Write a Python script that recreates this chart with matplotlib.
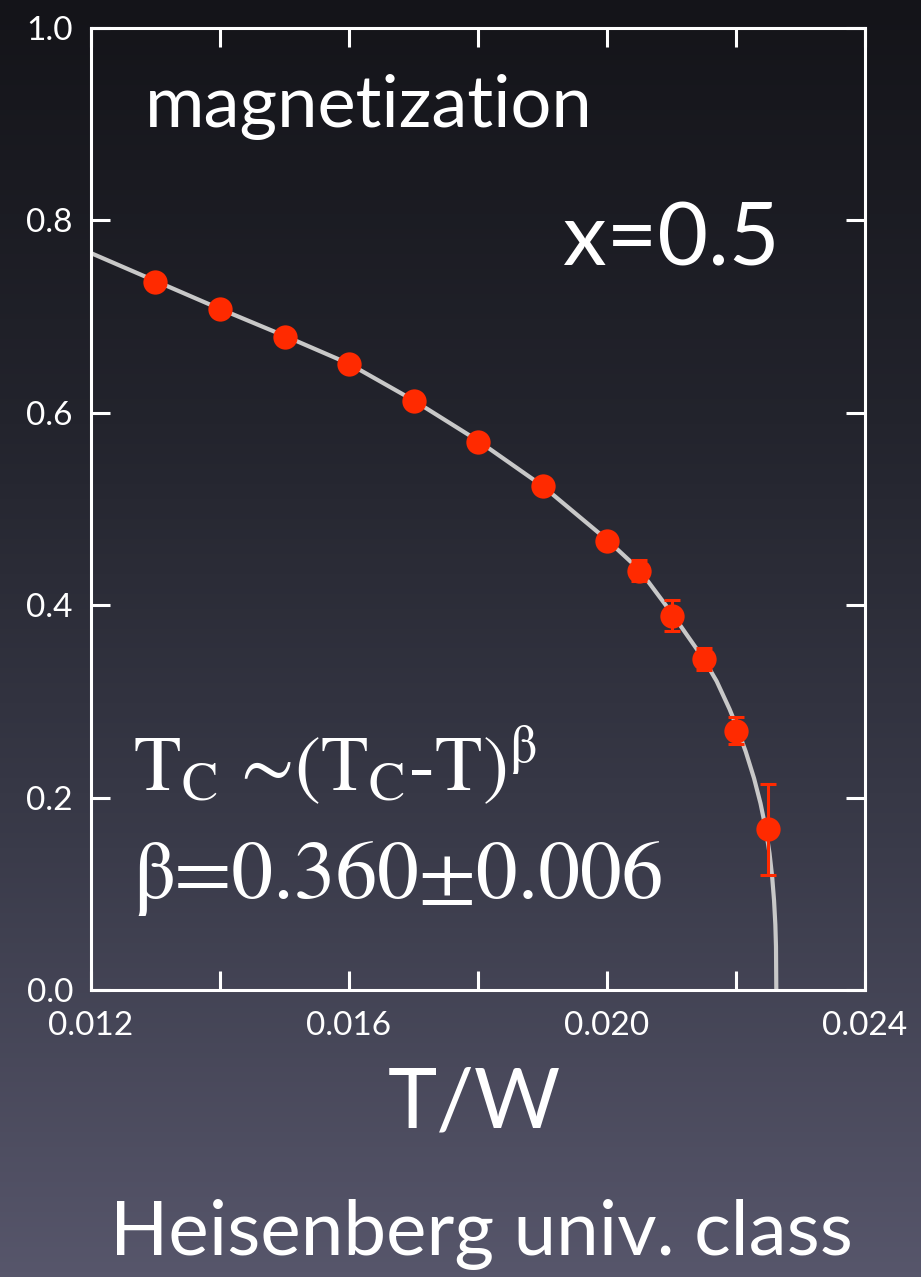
import numpy as np
import matplotlib
matplotlib.use("Agg")
import matplotlib.pyplot as plt
from matplotlib.colors import LinearSegmentedColormap

# Monte Carlo magnetization vs temperature (x = 0.5)
temp = [0.0130, 0.0140, 0.0150, 0.0160, 0.0170, 0.0180, 0.0190,
        0.0200, 0.0205, 0.0210, 0.0215, 0.0220, 0.0225]
magnet = [0.736, 0.708, 0.679, 0.651, 0.612, 0.570, 0.524,
          0.467, 0.436, 0.389, 0.344, 0.2695, 0.167]
magnet_err = [0.004, 0.004, 0.004, 0.004, 0.004, 0.004, 0.004,
              0.005, 0.011, 0.016, 0.011, 0.014, 0.047]

# critical-law fit curve
fit_t = [0.01200, 0.01300, 0.01400, 0.01500, 0.01600, 0.01700, 0.01800,
         0.01900, 0.02000, 0.02050, 0.02100, 0.02150, 0.02170, 0.02190,
         0.02200, 0.02215, 0.02228, 0.02238, 0.02246, 0.02252, 0.02256,
         0.02259, 0.02261, 0.022620, 0.022625]
fit_m = [0.766, 0.737, 0.708, 0.680, 0.651, 0.613, 0.571,
         0.524, 0.468, 0.437, 0.392, 0.344, 0.321, 0.292,
         0.2755, 0.248, 0.220, 0.194, 0.168, 0.142, 0.118,
         0.093, 0.068, 0.045, 0.000]

x_ticks = [0.012, 0.014, 0.016, 0.018, 0.020, 0.022, 0.024]
x_labels = ["0.012", "", "0.016", "", "0.020", "", "0.024"]
y_ticks = [0.0, 0.2, 0.4, 0.6, 0.8, 1.0]
y_labels = ["0.0", "0.2", "0.4", "0.6", "0.8", "1.0"]

W, H = 921, 1277
SANS = ["Lato", "DejaVu Sans"]
SERIF = ["STIXGeneral", "DejaVu Serif"]
plt.rcParams["mathtext.fontset"] = "stix"

fig = plt.figure(figsize=(W / 100, H / 100), dpi=100)

# vertical background gradient
bg = fig.add_axes([0, 0, 1, 1], zorder=-10)
bg.axis("off")
cmap = LinearSegmentedColormap.from_list(
    "bg", ["#141419", "#23242d", "#3a3b4a", "#57566b"])
grad = np.linspace(0, 1, 256).reshape(-1, 1)
bg.imshow(grad, aspect="auto", cmap=cmap, extent=[0, 1, 0, 1],
          origin="upper")
bg.set_xlim(0, 1)
bg.set_ylim(0, 1)

L, R, T, B = 91, 865, 28, 990
ax = fig.add_axes([L / W, 1 - B / H, (R - L) / W, (B - T) / H])
ax.patch.set_alpha(0)

red = "#ff2a00"
ax.plot(fit_t, fit_m, color="#c8c8c8", lw=3.0, zorder=2,
        solid_capstyle="butt", solid_joinstyle="round")
ax.errorbar(temp, magnet, yerr=magnet_err, fmt="none", ecolor=red,
            elinewidth=2.2, capsize=5.5, capthick=2.2, zorder=3)
ax.plot(temp, magnet, "o", color=red, ms=17.5, mew=0, zorder=4)

ax.set_xlim(0.012, 0.024)
ax.set_ylim(0.0, 1.0)
ax.set_xticks(x_ticks)
ax.set_xticklabels(x_labels)
ax.set_yticks(y_ticks)
ax.set_yticklabels(y_labels)
for s in ax.spines.values():
    s.set_color("white")
    s.set_linewidth(2.2)
ax.tick_params(direction="in", length=14, width=2.2, color="white",
               top=True, right=True, labelcolor="white", labelsize=24)
ax.tick_params(axis="x", pad=15)
ax.tick_params(axis="y", pad=13)
for lab in ax.get_xticklabels() + ax.get_yticklabels():
    lab.set_family(SANS)


def ftext(x, y, s, **kw):
    fig.text(x / W, 1 - y / H, s, color="white", **kw)


ftext(145, 127, "magnetization", family=SANS, fontsize=52,
      ha="left", va="baseline")
ftext(563, 265, "x=0.5", family=SANS, fontsize=63,
      ha="left", va="baseline")
ftext(133, 790, r"T$_\mathrm{C}$ ∼(T$_\mathrm{C}$-T)$^\mathrm{β}$",
      family=SERIF, fontsize=56, ha="left", va="baseline")
ftext(133, 898, "β=0.360±0.006", family=SERIF,
      fontsize=60, ha="left", va="baseline")
ftext(474, 1128, "T/W", family=SANS, fontsize=60,
      ha="center", va="baseline")
ftext(481, 1255, "Heisenberg univ. class", family=SANS, fontsize=55,
      ha="center", va="baseline")

fig.savefig("out.png", dpi=100)
